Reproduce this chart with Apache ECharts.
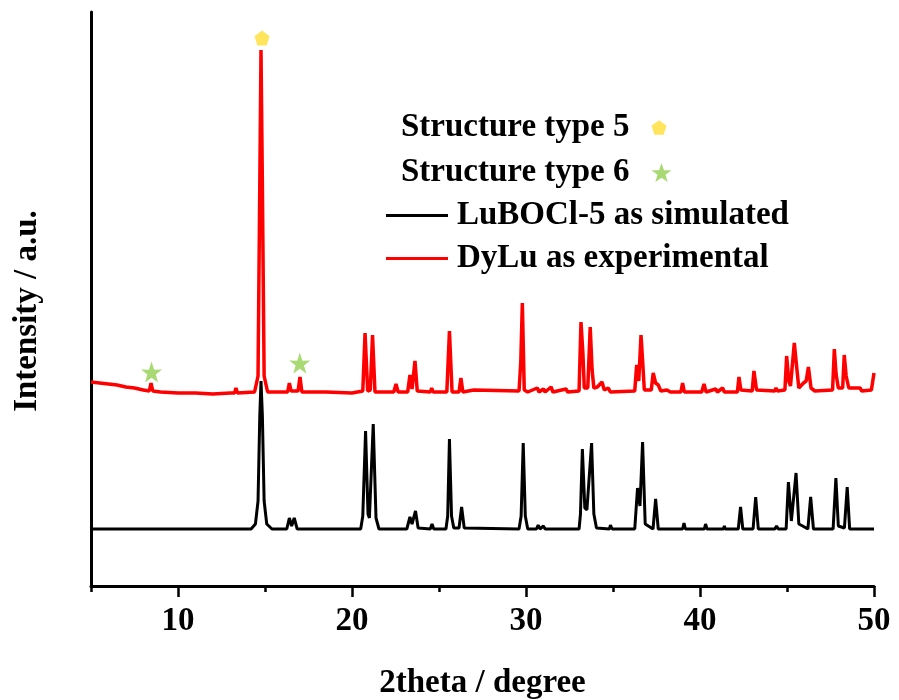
<!DOCTYPE html>
<html>
<head>
<meta charset="utf-8">
<script src="https://cdn.jsdelivr.net/npm/echarts@6/dist/echarts.min.js"></script>
<style>
  html, body { margin: 0; padding: 0; background: #fff; }
  #chart { width: 899px; height: 700px; }
</style>
</head>
<body>
<div id="chart"></div>
<script>
// PXRD patterns: [2theta, intensity (a.u.)]
var simulated = [
  [5.0, 57], [10.3, 57], [10.4, 59], [10.5, 57], [14.2, 57], [14.45, 62], [14.6, 85], [14.7, 170],
  [14.77, 205], [14.85, 170], [14.95, 85], [15.1, 62], [15.4, 57], [16.25, 57], [16.4, 68], [16.53, 60],
  [16.68, 68], [16.85, 57], [18.0, 57], [18.05, 59], [18.15, 57], [20.5, 57], [20.62, 70], [20.78, 155],
  [20.92, 72], [21.0, 68], [21.22, 162], [21.38, 68], [21.55, 57], [22.1, 57], [22.2, 59], [22.3, 57],
  [23.15, 57], [23.33, 69], [23.45, 62], [23.65, 75], [23.8, 58], [24.5, 57], [24.6, 62], [24.7, 57],
  [25.4, 57], [25.5, 70], [25.6, 147], [25.72, 70], [25.85, 58], [26.15, 58], [26.3, 79], [26.45, 58],
  [29.6, 57], [29.72, 70], [29.84, 143], [29.96, 70], [30.1, 57], [30.6, 57], [30.7, 61], [30.8, 57],
  [31.0, 60], [31.1, 57], [33.05, 57], [33.13, 72], [33.24, 137], [33.38, 78], [33.5, 76], [33.77, 143],
  [33.9, 72], [34.05, 58], [34.8, 57], [34.85, 61], [34.95, 57], [36.25, 57], [36.41, 98], [36.55, 80],
  [36.7, 144], [36.85, 62], [37.3, 57], [37.45, 87], [37.6, 57], [39.0, 57], [39.08, 63], [39.16, 57],
  [40.25, 57], [40.32, 62], [40.4, 57], [41.35, 57], [41.4, 60], [41.45, 57], [42.2, 57], [42.33, 79],
  [42.46, 57], [43.05, 57], [43.2, 89], [43.35, 57], [44.3, 57], [44.4, 60], [44.5, 57], [44.95, 57],
  [45.08, 104], [45.25, 65], [45.52, 113], [45.68, 62], [45.9, 60], [46.2, 57], [46.36, 89], [46.52, 57],
  [47.65, 57], [47.81, 108], [47.95, 60], [48.3, 58], [48.46, 99], [48.6, 57], [49.25, 57], [49.3, 59],
  [49.35, 57], [50.0, 57]
];

var experimental = [
  [5.0, 204], [5.5, 203], [6.0, 202], [6.5, 201], [7.0, 199], [7.5, 198], [8.0, 196], [8.35, 195],
  [8.45, 203], [8.55, 195], [9.0, 194], [10.0, 193], [11.0, 193], [12.0, 192], [13.0, 193], [13.25, 193],
  [13.33, 198], [13.42, 193], [14.4, 194], [14.6, 210], [14.7, 400], [14.77, 536], [14.85, 400], [14.95, 210],
  [15.15, 194], [16.3, 194], [16.4, 203], [16.5, 195], [16.6, 196], [16.7, 195], [16.9, 195], [17.01, 209],
  [17.12, 194], [18.5, 194], [20.0, 193], [20.62, 195], [20.75, 253], [20.9, 195], [21.05, 196], [21.18, 251],
  [21.32, 194], [22.4, 194], [22.53, 202], [22.65, 194], [23.2, 194], [23.33, 211], [23.45, 197], [23.62, 225],
  [23.75, 195], [24.5, 194], [24.58, 198], [24.66, 194], [25.45, 194], [25.6, 255], [25.75, 194], [26.15, 194],
  [26.26, 208], [26.37, 194], [27.0, 196], [27.1, 194], [29.6, 195], [29.7, 224], [29.79, 283], [29.9, 196],
  [30.1, 194], [30.65, 198], [30.75, 194], [31.0, 197], [31.1, 194], [31.44, 199], [31.55, 194], [32.3, 197],
  [32.4, 194], [33.05, 195], [33.16, 264], [33.27, 233], [33.35, 198], [33.55, 198], [33.69, 259], [33.8, 216],
  [33.9, 198], [34.1, 199], [34.2, 197], [34.37, 204], [34.5, 196], [34.73, 198], [34.85, 194], [36.25, 195],
  [36.36, 221], [36.48, 205], [36.61, 251], [36.7, 226], [36.8, 196], [37.2, 196], [37.31, 213], [37.45, 203],
  [37.6, 201], [37.75, 195], [38.1, 196], [38.3, 194], [38.9, 194], [39.0, 203], [39.1, 194], [40.1, 194],
  [40.23, 202], [40.35, 194], [40.9, 197], [41.0, 194], [41.3, 198], [41.4, 194], [42.15, 194], [42.24, 209],
  [42.35, 196], [43.0, 195], [43.1, 215], [43.25, 196], [44.3, 195], [44.37, 198], [44.45, 195], [44.88, 196],
  [44.98, 230], [45.1, 205], [45.2, 200], [45.42, 243], [45.55, 220], [45.68, 198], [45.95, 203], [46.1, 205],
  [46.23, 219], [46.38, 198], [46.6, 195], [47.62, 196], [47.72, 237], [47.82, 212], [47.95, 198], [48.2, 198],
  [48.29, 231], [48.4, 210], [48.55, 198], [49.2, 198], [49.3, 195], [49.85, 196], [50.0, 213]
];

// phase markers
var type5Marks = [[14.83, 548]];
var type6Marks = [[8.48, 214], [17.0, 223]];

var majorTicks = [10, 20, 30, 40, 50];
var minorTicks = [5, 15, 25, 35, 45];

var FONT = '"Times New Roman", "Liberation Serif", serif';
var PENTAGON = 'path://M50,0 L97.6,34.5 L79.4,90.5 L20.6,90.5 L2.4,34.5 Z';
var STAR = 'path://M50,0 L61.8,35.1 L97.6,34.5 L69,56 L79.4,90.5 L50,70 L20.6,90.5 L31,56 L2.4,34.5 L38.2,35.1 Z';

var chart = echarts.init(document.getElementById('chart'));

var textBold = { fontFamily: FONT, fontWeight: 'bold', fontSize: 33, color: '#000' };

function markerLegend(name, top, size, gap) {
    return {
        data: [name],
        orient: 'vertical',
        align: 'right',
        left: 396,
        top: top,
        itemWidth: size,
        itemHeight: size,
        selectedMode: false,
        textStyle: Object.assign({ lineHeight: 32, padding: [0, gap, 0, 0] }, textBold)
    };
}

chart.setOption({
    animation: false,
    backgroundColor: '#fff',
    grid: { left: 91, right: 25, top: 12, bottom: 114, outerBoundsMode: 'none' },
    legend: [
        markerLegend('Structure type 5', 106, 15, 17),
        markerLegend('Structure type 6', 151, 20, 17),
        {
            data: ['LuBOCl-5 as simulated', 'DyLu as experimental'],
            orient: 'vertical',
            align: 'left',
            left: 381,
            top: 194,
            icon: 'rect',
            itemWidth: 62,
            itemHeight: 3,
            itemGap: 10,
            selectedMode: false,
            textStyle: Object.assign({ lineHeight: 32, padding: [0, 0, 0, 4] }, textBold)
        }
    ],
    xAxis: [{
        type: 'value',
        min: 5,
        max: 50,
        name: '2theta / degree',
        nameLocation: 'middle',
        nameGap: 81,
        nameTextStyle: textBold,
        axisLine: { lineStyle: { color: '#000', width: 3 } },
        axisTick: { customValues: majorTicks, length: 11, lineStyle: { color: '#000', width: 2.5 } },
        axisLabel: Object.assign({ customValues: majorTicks, margin: 19 }, textBold),
        splitLine: { show: false }
    }, {
        type: 'value',
        min: 5,
        max: 50,
        position: 'bottom',
        axisLine: { show: false },
        axisTick: { customValues: minorTicks, length: 6, lineStyle: { color: '#000', width: 2.5 } },
        axisLabel: { show: false },
        splitLine: { show: false }
    }],
    yAxis: {
        type: 'value',
        min: 0,
        max: 574,
        name: 'Intensity / a.u.',
        nameLocation: 'middle',
        nameGap: 47,
        nameTextStyle: Object.assign({ padding: [0, 24, 0, 0] }, textBold),
        axisLine: { show: true, lineStyle: { color: '#000', width: 3 } },
        axisTick: { show: false },
        axisLabel: { show: false },
        splitLine: { show: false }
    },
    series: [{
        name: 'LuBOCl-5 as simulated',
        type: 'line',
        data: simulated,
        symbol: 'none',
        color: '#000',
        lineStyle: { color: '#000', width: 3 }
    }, {
        name: 'DyLu as experimental',
        type: 'line',
        data: experimental,
        symbol: 'none',
        color: '#ff0000',
        lineStyle: { color: '#ff0000', width: 3.5 }
    }, {
        name: 'Structure type 5',
        type: 'scatter',
        data: type5Marks,
        symbol: PENTAGON,
        symbolSize: 15,
        itemStyle: { color: '#ffdd33' },
        z: 5
    }, {
        name: 'Structure type 6',
        type: 'scatter',
        data: type6Marks,
        symbol: STAR,
        symbolSize: 21,
        itemStyle: { color: '#92d050' },
        z: 5
    }]
});
</script>
</body>
</html>
